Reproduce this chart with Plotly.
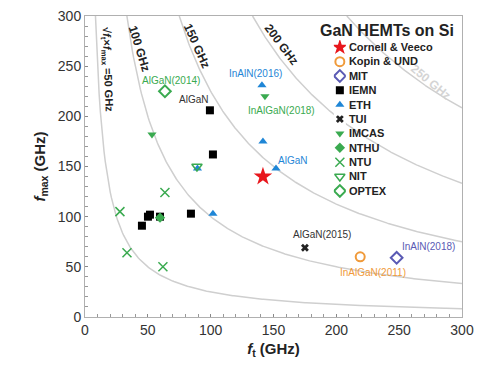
import numpy as np
import plotly.graph_objects as go

# ---- data ----
cornell_ft = [141.6]; cornell_fmax = [140]
kopin_ft = [219]; kopin_fmax = [60]
mit_ft = [248]; mit_fmax = [59]
iemn_ft = [45.3, 50.1, 51.7, 59.7, 84.3, 99.4, 101.8]
iemn_fmax = [91, 100, 102, 100, 103, 206, 162]
eth_ft = [140.8, 141.6, 152, 101.8, 89.5]
eth_fmax = [231, 175, 148, 103, 148]
tui_ft = [175]; tui_fmax = [69]
imcas_ft = [53.3, 143.2]; imcas_fmax = [182, 220]
nthu_ft = [59.7]; nthu_fmax = [99]
ntu_ft = [27.8, 33.4, 63.6, 62]; ntu_fmax = [105, 64, 124, 50]
nit_ft = [89.1]; nit_fmax = [150]
optex_ft = [63.6]; optex_fmax = [225]

group_names = ["Cornell & Veeco", "Kopin & UND", "MIT", "IEMN", "ETH", "TUI",
               "IMCAS", "NTHU", "NTU", "NIT", "OPTEX"]
iso_levels = [50, 100, 150, 200, 250]
x_ticks = [0, 50, 100, 150, 200, 250, 300]

GREEN = "#3aaa50"
BLUE = "#1f86d6"
fig = go.Figure()

# iso-curves sqrt(ft*fmax) = level
for lv in iso_levels:
    xs = np.linspace(lv * lv / 300.0, 300, 300)
    fig.add_trace(go.Scatter(x=xs, y=lv * lv / xs, mode="lines",
                             line=dict(color="#cfcfcf", width=1.5),
                             showlegend=False, hoverinfo="skip"))

markers = [
    dict(symbol="star", color="#e8161c", size=14),
    dict(symbol="circle-open", color="#f09a3a", size=9, line=dict(width=2, color="#f09a3a")),
    dict(symbol="diamond-open", color="#5a5ab4", size=9, line=dict(width=2, color="#5a5ab4")),
    dict(symbol="square", color="black", size=8),
    dict(symbol="triangle-up", color=BLUE, size=8),
    dict(symbol="x", color="#222", size=7),
    dict(symbol="triangle-down", color=GREEN, size=8),
    dict(symbol="diamond", color=GREEN, size=8),
    dict(symbol="x-thin-open", color=GREEN, size=9, line=dict(width=1.5, color=GREEN)),
    dict(symbol="triangle-down-open", color=GREEN, size=9, line=dict(width=1.5, color=GREEN)),
    dict(symbol="diamond-open", color=GREEN, size=9, line=dict(width=2, color=GREEN)),
]
data_x = [cornell_ft, kopin_ft, mit_ft, iemn_ft, eth_ft, tui_ft, imcas_ft, nthu_ft, ntu_ft, nit_ft, optex_ft]
data_y = [cornell_fmax, kopin_fmax, mit_fmax, iemn_fmax, eth_fmax, tui_fmax, imcas_fmax, nthu_fmax, ntu_fmax, nit_fmax, optex_fmax]

draw_order = [4, 3, 1, 2, 5, 6, 7, 8, 9, 10, 0]
for i in draw_order:
    fig.add_trace(go.Scatter(x=data_x[i], y=data_y[i], mode="markers", name=group_names[i],
                             marker=markers[i], showlegend=False))

# compact legend: one key per group on a small categorical axis
for i, name in enumerate(group_names):
    mk = dict(markers[i])
    if mk["symbol"] == "star":
        mk["size"] = 12
    fig.add_trace(go.Scatter(x=[0], y=[name], mode="markers", marker=mk,
                             xaxis="x2", yaxis="y2", showlegend=False, hoverinfo="skip"))

# point labels
labels = [
    ("AlGaN(2014)", 68.4, 236, GREEN),
    ("AlGaN", 86.7, 217, "#333"),
    ("InAlN(2016)", 136, 243, BLUE),
    ("InAlGaN(2018)", 156, 206, GREEN),
    ("AlGaN", 165, 156, BLUE),
    ("AlGaN(2015)", 188.6, 82, "#333"),
    ("InAlGaN(2011)", 229, 44, "#f09a3a"),
    ("InAlN(2018)", 273, 70, "#5a5ab4"),
]
for t, x, y, c in labels:
    fig.add_annotation(x=x, y=y, text=t, showarrow=False,
                       font=dict(size=10, color=c, family="Liberation Sans Narrow, Arial"))

curve_labels = [
    ("√<i>f</i><sub>t</sub>×<i>f</i><sub>max</sub> =50 GHz", 17.5, 246, 88, "#222", 11),
    ("100 GHz", 43, 268, 73, "#222", 12),
    ("150 GHz", 89, 270, 66, "#222", 12),
    ("200 GHz", 156, 272, 53, "#222", 12),
    ("250 GHz", 275, 234, 40, "#d4d4d4", 12),
]
for t, x, y, a, c, s in curve_labels:
    fig.add_annotation(x=x, y=y, text="<b>" + t + "</b>", showarrow=False, textangle=a,
                       xanchor="center", yanchor="middle",
                       font=dict(size=s, color=c, family="Arial"))

fig.add_annotation(xref="paper", yref="paper", x=0.80, y=0.953, xanchor="center", yanchor="middle",
                   text="<b>GaN HEMTs on Si</b>",
                   showarrow=False, font=dict(size=16, color="#222", family="Arial"))

axis_common = dict(range=[0, 300], dtick=50, showgrid=False, zeroline=False,
                   showline=True, linecolor="#b0b0b0", linewidth=1, mirror=True,
                   ticks="inside", ticklen=3, tickcolor="#888", automargin=False,
                   ticklabeloverflow="allow",
                   minor=dict(ticks="inside", ticklen=3, dtick=10, tickcolor="#999"),
                   tickfont=dict(size=14, color="#333", family="Arial Black, Arial"))

fig.update_layout(
    width=478, height=360,
    margin=dict(l=77, r=24, t=8, b=51),
    paper_bgcolor="white", plot_bgcolor="white",
    font=dict(family="Arial", color="#222"),
    xaxis=dict(**axis_common, tickvals=x_ticks,
               title=dict(text="<b><i>f</i><sub>t</sub> (GHz)</b>", font=dict(size=15), standoff=6)),
    yaxis=dict(**axis_common,
               title=dict(text="<b><i>f</i><sub>max</sub> (GHz)</b>", font=dict(size=15), standoff=8)),
    xaxis2=dict(domain=[0.660, 0.692], range=[-1, 1], anchor="y2", automargin=False,
                visible=False, fixedrange=True),
    yaxis2=dict(domain=[0.395, 0.920], type="category", categoryarray=group_names,
                categoryorder="array", range=[10.5, -0.5], side="right", anchor="x2",
                showgrid=False, zeroline=False, showline=False, ticks="", automargin=False,
                ticklabelstandoff=2, fixedrange=True,
                tickfont=dict(size=11, color="#222", family="Arial", weight="bold")),
    showlegend=False,
)

fig.write_html("out.html")
